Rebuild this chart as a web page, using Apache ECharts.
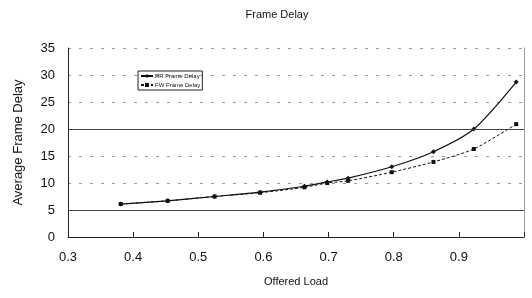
<!DOCTYPE html>
<html><head><meta charset="utf-8">
<script src="https://cdn.jsdelivr.net/npm/echarts@6/dist/echarts.min.js"></script>
<style>html,body{margin:0;padding:0;background:#fff}#c{width:532px;height:298px}</style>
</head><body><div id="c"></div>
<script>
var loads = [0.381, 0.453, 0.525, 0.595, 0.663, 0.698, 0.73, 0.797, 0.861, 0.923, 0.988];
var rrDelay = [6.1, 6.7, 7.5, 8.3, 9.4, 10.2, 10.9, 13.0, 15.8, 20.0, 28.7];
var fwDelay = [6.1, 6.7, 7.5, 8.2, 9.2, 10.0, 10.4, 12.0, 13.9, 16.3, 20.9];
var xTicks = ['0.3', '0.4', '0.5', '0.6', '0.7', '0.8', '0.9'];
var solidLines = [5, 20];

function pairs(xs, ys) { return xs.map(function (x, i) { return [x, ys[i]]; }); }
var F = 'Liberation Sans, Arial, sans-serif';
var chart = echarts.init(document.getElementById('c'));
chart.setOption({
  animation: false,
  title: { text: 'Frame Delay', left: 272, top: 4, textAlign: 'center',
    textStyle: { fontFamily: F, fontSize: 11, fontWeight: 'normal', color: '#111' } },
  legend: {
    left: 138, top: 71, orient: 'vertical', itemWidth: 12, itemHeight: 5, itemGap: 3,
    padding: [2, 2, 2, 2], borderColor: '#222', borderWidth: 1,
    textStyle: { fontFamily: F, fontSize: 6, color: '#111', padding: [0, 0, 0, -3] },
    data: ['RR Frame Delay', 'FW Frame Delay']
  },
  grid: { left: 68, right: 8, top: 48, bottom: 61 },
  xAxis: {
    type: 'value', min: 0.3, max: 1.0, interval: 0.1,
    name: 'Offered Load', nameLocation: 'middle', nameGap: 39,
    nameTextStyle: { fontFamily: F, fontSize: 11, color: '#111' },
    axisLine: { lineStyle: { color: '#222', width: 1 } },
    axisTick: { inside: true, length: 5, lineStyle: { color: '#222' } },
    axisLabel: { fontFamily: F, fontSize: 13, color: '#111', margin: 14,
      formatter: function (v) { var s = v.toFixed(1); return xTicks.indexOf(s) >= 0 ? s : ''; } },
    splitLine: { show: false }
  },
  yAxis: [{
    type: 'value', min: 0, max: 35, interval: 5,
    name: 'Average Frame Delay', nameLocation: 'middle', nameGap: 43,
    nameTextStyle: { fontFamily: F, fontSize: 13, color: '#111' },
    axisLine: { show: true, lineStyle: { color: '#222', width: 1 } },
    axisTick: { show: false },
    axisLabel: { fontFamily: F, fontSize: 13, color: '#111', margin: 13 },
    splitLine: { show: true, lineStyle: { color: '#999', type: [3, 8], width: 1 } }
  }, {
    type: 'value', min: 0, max: 35, interval: 5, position: 'right',
    axisLine: { show: true, lineStyle: { color: '#888', type: [1, 1], width: 1 } },
    axisTick: { show: false }, axisLabel: { show: false }, splitLine: { show: false }
  }],
  series: [{
    name: 'RR Frame Delay', type: 'line', data: pairs(loads, rrDelay), smooth: 0.25,
    symbol: 'diamond', symbolSize: 5,
    lineStyle: { color: '#111', width: 1.2 }, itemStyle: { color: '#111' },
    markLine: { silent: true, symbol: 'none', label: { show: false },
      lineStyle: { color: '#444', type: 'solid', width: 1 },
      data: solidLines.map(function (v) { return { yAxis: v }; }) }
  }, {
    name: 'FW Frame Delay', type: 'line', data: pairs(loads, fwDelay), smooth: 0.25,
    symbol: 'rect', symbolSize: 4,
    lineStyle: { color: '#111', width: 1, type: [3, 2] }, itemStyle: { color: '#111' }
  }]
});
</script></body></html>
